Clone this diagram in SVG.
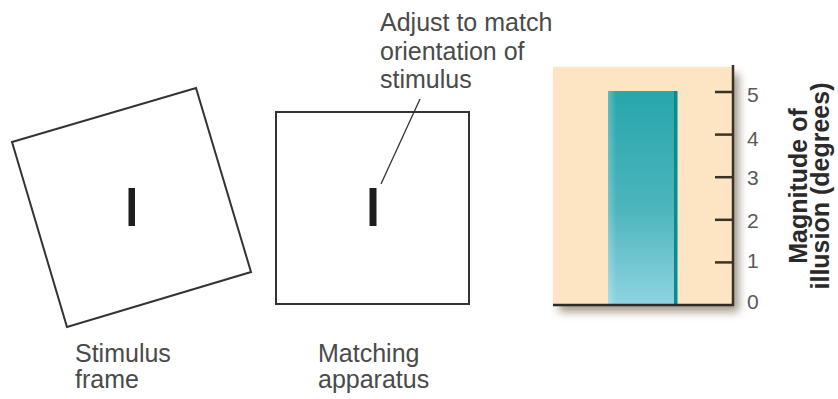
<svg xmlns="http://www.w3.org/2000/svg" width="838" height="399" viewBox="0 0 838 399">
  <defs>
    <style>
      .frame { fill: #ffffff; stroke: #333333; stroke-width: 2; }
      .mark { fill: #1e1e1e; }
      .label { font-family: "Liberation Sans", Arial, sans-serif; font-size: 25px; fill: #4a4a4a; }
      .tick { stroke: #3a3226; stroke-width: 2.5; }
      .num { font-family: "Liberation Sans", Arial, sans-serif; font-size: 21px; fill: #5a5a5a; text-anchor: start; }
      .axtitle { font-family: "Liberation Sans", Arial, sans-serif; font-size: 25px; font-weight: bold; fill: #2a2a2a; text-anchor: middle; }
      .leader { stroke: #333333; stroke-width: 1.3; fill: none; }
    </style>
    <linearGradient id="barGrad" x1="0" y1="0" x2="0" y2="1">
      <stop offset="0" stop-color="#27a6ab"/>
      <stop offset="0.55" stop-color="#4db5bd"/>
      <stop offset="1" stop-color="#8fd4e2"/>
    </linearGradient>
    <linearGradient id="barEdge" x1="0" y1="0" x2="1" y2="0">
      <stop offset="0" stop-color="#ffffff" stop-opacity="0.25"/>
      <stop offset="0.12" stop-color="#ffffff" stop-opacity="0"/>
      <stop offset="1" stop-color="#ffffff" stop-opacity="0"/>
    </linearGradient>
    <filter id="shadow" x="-10%" y="-10%" width="130%" height="130%">
      <feDropShadow dx="6" dy="7" stdDeviation="4" flood-color="#6b5c44" flood-opacity="0.6"/>
    </filter>
  </defs>

  <rect width="838" height="399" fill="#ffffff"/>

  <g id="stimulus-frame">
    <polygon class="frame" points="12,142 196,88 251,272 67,327"/>
    <rect class="mark" x="128.5" y="188" width="6.5" height="38"/>
    <text class="label" x="75" y="362">Stimulus</text>
    <text class="label" x="75" y="388">frame</text>
  </g>

  <g id="matching-apparatus">
    <rect class="frame" x="276" y="112" width="193" height="192"/>
    <rect class="mark" x="369.5" y="188" width="7" height="38"/>
    <text class="label" x="318" y="362">Matching</text>
    <text class="label" x="318" y="388">apparatus</text>
  </g>

  <g id="adjust-note">
    <text class="label" x="380" y="31">Adjust to match</text>
    <text class="label" x="380" y="59.5">orientation of</text>
    <text class="label" x="380" y="88">stimulus</text>
  </g>

  <g id="connectors">
    <line class="leader" x1="381" y1="184" x2="420" y2="99"/>
  </g>

  <g id="chart">
    <rect x="553" y="67" width="180" height="238" fill="#fde4c3" filter="url(#shadow)"/>
    <rect x="608" y="91" width="69" height="214" fill="url(#barGrad)"/>
    <rect x="608" y="91" width="69" height="214" fill="url(#barEdge)"/>
    <rect x="674" y="91" width="3.5" height="214" fill="#0b8b8e"/>
    <line x1="553" y1="305" x2="734" y2="305" stroke="#2e2a24" stroke-width="2.5"/>
    <line x1="733" y1="65" x2="733" y2="306" stroke="#3a3226" stroke-width="2.5"/>
    <line class="tick" x1="715" y1="92" x2="733" y2="92"/>
    <line class="tick" x1="715" y1="134.6" x2="733" y2="134.6"/>
    <line class="tick" x1="715" y1="177.2" x2="733" y2="177.2"/>
    <line class="tick" x1="715" y1="219.8" x2="733" y2="219.8"/>
    <line class="tick" x1="715" y1="262.4" x2="733" y2="262.4"/>
    <text class="num" x="747" y="101.5">5</text>
    <text class="num" x="747" y="145.5">4</text>
    <text class="num" x="747" y="184.5">3</text>
    <text class="num" x="747" y="227.5">2</text>
    <text class="num" x="747" y="267.5">1</text>
    <text class="num" x="747" y="308.5">0</text>
    <text class="axtitle" transform="translate(807,186) rotate(-90)">Magnitude of</text>
    <text class="axtitle" transform="translate(829,186) rotate(-90)">illusion (degrees)</text>
  </g>
</svg>
